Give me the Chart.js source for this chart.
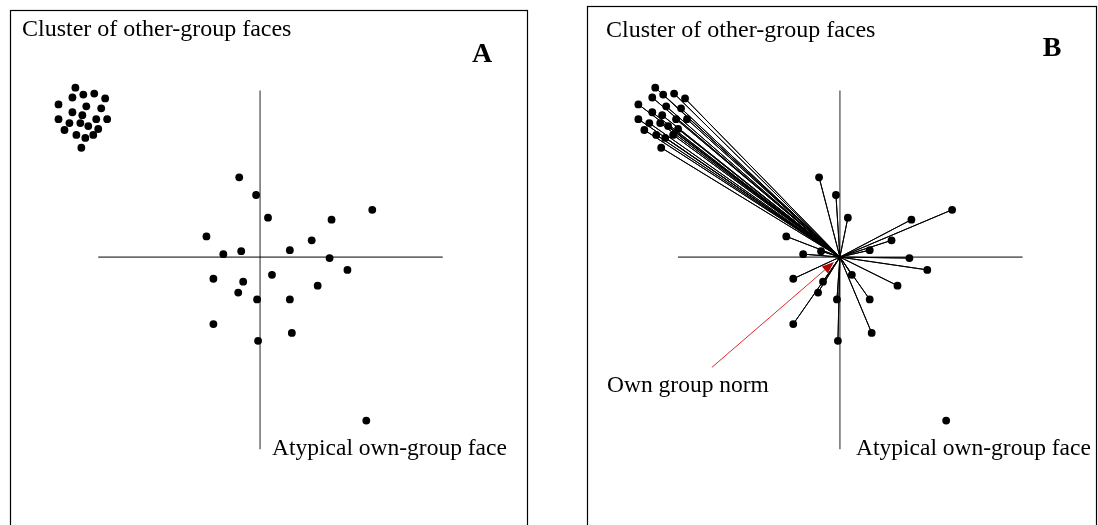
<!DOCTYPE html>
<html><head><meta charset="utf-8">
<script src="https://cdn.jsdelivr.net/npm/chart.js@4"></script>
<style>html,body{margin:0;padding:0;background:#fff;overflow:hidden}#wrap{position:relative;width:1098px;height:525px}</style>
</head><body><div id="wrap"><canvas id="c" width="1098" height="525"></canvas></div>
<script>
// ---- data (units: arbitrary face-space dimensions, origin = own-group norm) ----
const otherGroupX = [-18.6,-18.9,-17.8,-16.7,-15.6,-20.3,-17.5,-16.0,-18.9,-17.9,-20.3,-19.2,-18.1,-16.5,-15.4,-19.7,-17.3,-16.3,-18.5,-16.8,-17.6,-18.0];
const otherGroupY = [17.2,16.2,16.5,16.6,16.1,15.5,15.3,15.1,14.7,14.4,14.0,13.6,13.6,14.0,14.0,12.9,13.3,13.0,12.4,12.4,12.1,11.1];
const ownGroupX = [-2.1,-0.4,0.8,11.3,7.2,-5.4,5.2,-3.7,-1.9,3.0,7.0,8.8,-4.7,-1.7,1.2,5.8,-2.2,-0.3,3.0,-4.7,3.2,-0.2];
const ownGroupY = [8.1,6.3,4.0,4.8,3.8,2.1,1.7,0.3,0.6,0.7,-0.1,-1.3,-2.2,-2.5,-1.8,-2.9,-3.6,-4.3,-4.3,-6.8,-7.7,-8.5];
const atypicalX = [10.7];
const atypicalY = [-16.6];
const normX = 0, normY = 0;
const panelNames = ['A', 'B'];
const clusterText = 'Cluster of other-group faces';
const atypicalText = 'Atypical own-group face';
const normText = 'Own group norm';
const arrowFromX = -12.9, arrowFromY = -11.2, arrowToX = -0.6, arrowToY = -0.5;

// ---- helpers ----
const toPts = (xs, ys) => xs.map((x, i) => ({x: x, y: ys[i]}));
const otherPts = toPts(otherGroupX, otherGroupY);
const ownPts = toPts(ownGroupX, ownGroupY);
const atypPts = toPts(atypicalX, atypicalY);
const norm = {x: normX, y: normY};
const star = [];
otherPts.concat(ownPts).forEach(p => { star.push(p); star.push(norm); });

const hAxis = [{x: -16.3, y: 0}, {x: 18.4, y: 0}];
const vAxis = [{x: 0, y: 16.9}, {x: 0, y: -19.5}];

function dotSet(data, axis) {
  return {type: 'scatter', data: data, xAxisID: axis, yAxisID: 'y', order: 0, clip: false,
    pointRadius: 3.9, pointHoverRadius: 3.9, pointBackgroundColor: '#000', pointBorderColor: '#000', pointBorderWidth: 0, showLine: false};
}
function lineSet(data, axis, color, width, order) {
  return {type: 'scatter', data: data, xAxisID: axis, yAxisID: 'y', order: order, clip: false,
    showLine: true, borderColor: color, borderWidth: width, pointRadius: 0, pointHoverRadius: 0, tension: 0, spanGaps: false};
}

const datasets = [];
['xA', 'xB'].forEach(ax => {
  datasets.push(dotSet(otherPts, ax));
  datasets.push(dotSet(ownPts, ax));
  datasets.push(dotSet(atypPts, ax));
  datasets.push(lineSet(hAxis, ax, '#000', 1, 3));
  datasets.push(lineSet(vAxis, ax, '#777', 1.6, 3));
});
datasets.push(lineSet(star, 'xB', '#000', 1, 1));

const decor = {
  id: 'decor',
  beforeDatasetsDraw(chart) {
    const ctx = chart.ctx;
    ctx.save();
    ctx.strokeStyle = '#000';
    ctx.lineWidth = 1.2;
    ctx.strokeRect(10.5, 10.5, 517, 540);
    ctx.strokeRect(587.5, 6.5, 509, 540);
    ctx.restore();
  },
  afterDatasetsDraw(chart) {
    const ctx = chart.ctx, s = chart.scales;
    ctx.save();
    ctx.fillStyle = '#000';
    ctx.textBaseline = 'alphabetic';
    ctx.textAlign = 'left';
    ctx.font = '24px "Liberation Serif", "Times New Roman", serif';
    ctx.fillText(clusterText, 22, 36);
    ctx.fillText(clusterText, 606, 37);
    ctx.font = '23.5px "Liberation Serif", "Times New Roman", serif';
    ctx.fillText(atypicalText, 272, 455);
    ctx.fillText(atypicalText, 856, 455);
    ctx.fillText(normText, 607, 392);
    ctx.font = 'bold 28px "Liberation Serif", "Times New Roman", serif';
    ctx.textAlign = 'center';
    ctx.fillText(panelNames[0], 482, 62);
    ctx.fillText(panelNames[1], 1052, 56);
    // arrow
    const x1 = s.xB.getPixelForValue(arrowFromX), y1 = s.y.getPixelForValue(arrowFromY);
    const x2 = s.xB.getPixelForValue(arrowToX), y2 = s.y.getPixelForValue(arrowToY);
    const ang = Math.atan2(y2 - y1, x2 - x1);
    const hl = 12, hw = 4.5;
    const bx = x2 - hl * Math.cos(ang), by = y2 - hl * Math.sin(ang);
    ctx.strokeStyle = '#e02828';
    ctx.lineWidth = 1;
    ctx.beginPath(); ctx.moveTo(x1, y1); ctx.lineTo(bx, by); ctx.stroke();
    ctx.fillStyle = '#b00000';
    ctx.beginPath();
    ctx.moveTo(x2, y2);
    ctx.lineTo(bx + hw * Math.sin(ang), by - hw * Math.cos(ang));
    ctx.lineTo(bx - hw * Math.sin(ang), by + hw * Math.cos(ang));
    ctx.closePath(); ctx.fill();
    ctx.restore();
  }
};

new Chart(document.getElementById('c'), {
  type: 'scatter',
  data: {datasets: datasets},
  options: {
    responsive: false, animation: false, events: [],
    layout: {padding: 0},
    plugins: {legend: {display: false}, tooltip: {enabled: false}, title: {display: false}},
    scales: {
      xA: {type: 'linear', position: 'bottom', min: -25.8, max: 84.0, display: false},
      xB: {type: 'linear', position: 'bottom', min: -84.2, max: 25.6, display: false},
      y: {type: 'linear', min: -26.8, max: 25.7, display: false}
    }
  },
  plugins: [decor]
});
</script></body></html>
